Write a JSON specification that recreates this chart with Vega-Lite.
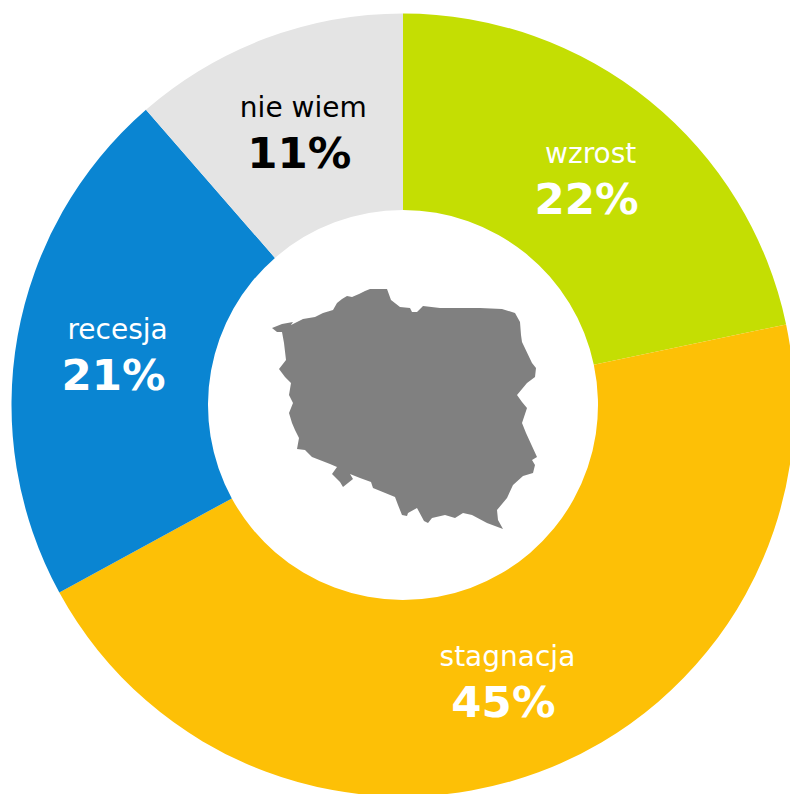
{
"$schema":"https://vega.github.io/schema/vega-lite/v6.json",
"width":790,"height":794,"padding":0,"autosize":{"type":"none"},
"background":"white",
"view":{"stroke":null},
"datasets":{"shares":[
{"kategoria":"wzrost","udzial":21.7,"etykieta":"22%","kolejnosc":1},
{"kategoria":"stagnacja","udzial":45.35,"etykieta":"45%","kolejnosc":2},
{"kategoria":"recesja","udzial":21.55,"etykieta":"21%","kolejnosc":3},
{"kategoria":"nie wiem","udzial":11.4,"etykieta":"11%","kolejnosc":4}
]},
"layer":[
{"data":{"name":"shares"},
"mark":{"type":"arc","innerRadius":195,"outerRadius":391.5},
"encoding":{
"x":{"value":403},"y":{"value":405},
"theta":{"field":"udzial","type":"quantitative","stack":true,"scale":{"domain":[0,100]}},
"order":{"field":"kolejnosc","type":"ordinal"},
"color":{"field":"kategoria","type":"nominal","legend":null,"scale":{"domain":["wzrost","stagnacja","recesja","nie wiem"],"range":["#C4DE03","#FDC006","#0A85D2","#E4E4E4"]}}
}},
{"data":{"name":"shares"},
"mark":{"type":"text","radius":293,"dx":3,"dy":-22,"font":"DejaVu Sans","fontSize":28,"align":"center","baseline":"middle"},
"encoding":{
"x":{"value":403},"y":{"value":405},
"theta":{"field":"udzial","type":"quantitative","stack":true,"scale":{"domain":[0,100]}},
"order":{"field":"kolejnosc","type":"ordinal"},
"text":{"field":"kategoria","type":"nominal"},
"color":{"condition":{"test":"datum.kategoria==='nie wiem'","value":"#000000"},"value":"#FFFFFF"}
}},
{"data":{"name":"shares"},
"mark":{"type":"text","radius":293,"dx":-1,"dy":24,"font":"DejaVu Sans","fontWeight":"bold","fontSize":43.5,"align":"center","baseline":"middle"},
"encoding":{
"x":{"value":403},"y":{"value":405},
"theta":{"field":"udzial","type":"quantitative","stack":true,"scale":{"domain":[0,100]}},
"order":{"field":"kolejnosc","type":"ordinal"},
"text":{"field":"etykieta","type":"nominal"},
"color":{"condition":{"test":"datum.kategoria==='nie wiem'","value":"#000000"},"value":"#FFFFFF"}
}},
{"data":{"values":{"type":"Feature","properties":{"name":"Polska"},"geometry":{"type":"Polygon","coordinates":[[[0,502.5],[25,512.5],[52.5,517.5],[47.5,510],[77.5,525],[107.5,530],[127.5,540],[152.5,547.5],[162.5,565],[175,575],[187.5,582.5],[200,580],[217.5,587.5],[232.5,595],[245,600],[287.5,600],[297.5,572.5],[320,555],[345,552.5],[350,542.5],[362.5,542.5],[377.5,557.5],[420,552.5],[520,552.5],[575,550],[607.5,540],[620,517.5],[622.5,485],[625,467.5],[650,415],[660,402.5],[657.5,380],[637.5,365],[612.5,335],[625,317.5],[637.5,302.5],[625,265],[635,240],[662.5,180],[650,172.5],[657.5,160],[652.5,140],[627.5,132.5],[602.5,110],[587.5,77.5],[562.5,47.5],[565,22.5],[577.5,0],[537.5,15],[500,35],[477.5,40],[457.5,27.5],[432.5,35],[400,27.5],[390,15],[380,20],[362.5,52.5],[340,40],[337.5,32.5],[325,35],[315,60],[307.5,80],[252.5,102.5],[247.5,117.5],[220,127.5],[195,137.5],[202.5,125],[177.5,105],[170,117.5],[150,137.5],[162.5,155],[145,162.5],[100,180],[82.5,197.5],[62.5,200],[67.5,227.5],[57.5,247.5],[50,265],[42.5,290],[52.5,315],[42.5,335],[47.5,365],[32.5,380],[17.5,400],[35,422.5],[30,465],[25,492.5],[12.5,492.5],[0,502.5]]]}},"format":{"type":"json"}},
"projection":{"type":"identity","scale":0.4,"translate":[272,529],"reflectY":true},
"mark":{"type":"geoshape","fill":"#808080","stroke":null},
"encoding":{}
}
]
}
